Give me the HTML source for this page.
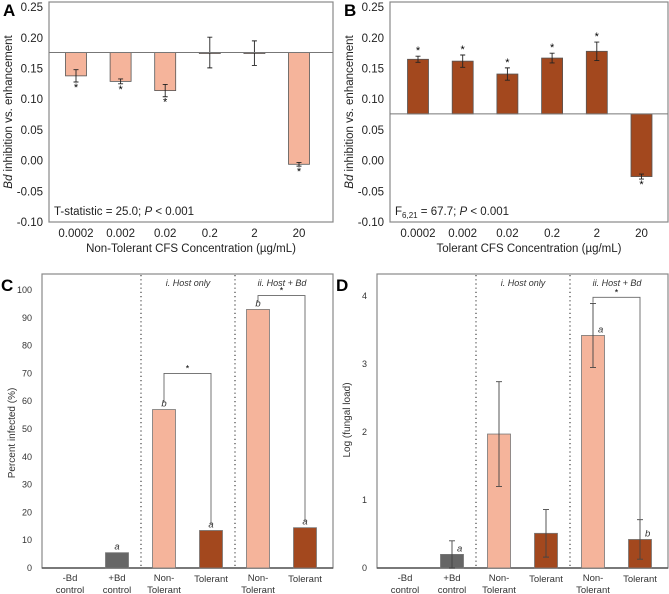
<!DOCTYPE html>
<html><head><meta charset="utf-8"><style>
body{margin:0;background:#fff;}
svg{display:block;font-family:"Liberation Sans",sans-serif;}
</style></head><body>
<svg id="fig" width="669" height="594" viewBox="0 0 669 594" xmlns="http://www.w3.org/2000/svg"></svg>
<script>
const concCats = ["0.0002","0.002","0.02","0.2","2","20"];
const aValues = [0.138,0.129,0.114,0.176,0.175,-0.006];
const aErrors = [0.010,0.004,0.010,0.025,0.020,0.003];
const aSig = [1,1,1,0,0,1];
const bValues = [0.165,0.162,0.141,0.167,0.178,-0.026];
const bErrors = [0.005,0.010,0.010,0.008,0.015,0.004];
const bSig = [1,1,1,1,1,1];
const abTicks = [0.25,0.20,0.15,0.10,0.05,0.00,-0.05,-0.10];
const groupCats = [["-Bd","control"],["+Bd","control"],["Non-","Tolerant"],["Tolerant"],["Non-","Tolerant"],["Tolerant"]];
const cValues = [0,5.5,57,13.5,93,14.5];
const cLetters = ["","a","b","a","b","a"];
const cTicks = [0,10,20,30,40,50,60,70,80,90,100];
const dValues = [0,0.2,1.97,0.51,3.42,0.42];
const dErrors = [0,0.2,0.77,0.35,0.47,0.29];
const dLetters = ["","a","","","a","b"];
const dTicks = [0,1,2,3,4];

const NS="http://www.w3.org/2000/svg";
const svg=document.getElementById('fig');
function el(tag,attrs,parent,text){const e=document.createElementNS(NS,tag);for(const k in attrs)e.setAttribute(k,attrs[k]);if(text!==undefined)e.textContent=text;(parent||svg).appendChild(e);return e;}
const PINK="#f5b49b",BROWN="#a3481e",GREY="#666";

function panelAB(o){
  const g=el('g',{});
  
  
  const y=v=>222-(v+0.10)*614;
  const x=i=>o.x0+i*o.step;
  el('rect',{x:o.left,y:2,width:o.right-o.left,height:220,fill:'none',stroke:'#888','stroke-width':1.2},g);
  const pl=el('text',{x:o.left-46,y:16,'font-size':17,'font-weight':'bold'},g,o.letter);
  
  abTicks.forEach(t=>{const tt=el('text',{x:o.left-6,y:y(t)+4,'font-size':11.5,'text-anchor':'end',fill:'#222'},g,t.toFixed(2));
    });
  const yt=el('text',{transform:`translate(${o.left-37},112) rotate(-90)`,'font-size':11.5,'text-anchor':'middle',fill:'#222'},g);
  
  el('tspan',{'font-style':'italic'},yt,'Bd');el('tspan',{},yt,' inhibition vs. enhancement');
  const base=y(o.base);
  o.vals.forEach((v,i)=>{
    const top=Math.min(base,y(v)),h=Math.abs(base-y(v));
    const b=el('rect',{x:x(i)-10.5,y:top,width:21,height:Math.max(h,1),fill:o.color,stroke:'#555','stroke-width':0.8},g);
    
    const e1=y(v+o.errs[i]),e2=y(v-o.errs[i]);
    const eb=el('path',{d:`M${x(i)},${e1}V${e2}M${x(i)-2.5},${e1}H${x(i)+2.5}M${x(i)-2.5},${e2}H${x(i)+2.5}`,stroke:'#222','stroke-width':0.9,fill:'none'},g);
    
    if(o.sig[i]){const below=v<o.base;const sy=below?e2+9:e1-2;
      const s=el('text',{x:x(i),y:sy,'font-size':11,'text-anchor':'middle'},g,'*');
      }
    const tl=el('text',{x:x(i),y:237,'font-size':11.5,'text-anchor':'middle',fill:'#222'},g,concCats[i]);
    
  });
  el('line',{x1:o.left,x2:o.right,y1:base,y2:base,stroke:'#777','stroke-width':1},g);
  const xt=el('text',{x:(o.left+o.right)/2,y:252,'font-size':11.5,'text-anchor':'middle',fill:'#222'},g,o.xtitle);
  
  const st=el('text',{x:o.left+5,y:215,'font-size':11.5,fill:'#222'},g);
  
  o.stat(st);
}
panelAB({name:'panel-a',letter:'A',left:49,right:333,x0:76,step:44.6,vals:aValues,errs:aErrors,sig:aSig,base:0.176,color:PINK,
  xtitle:'Non-Tolerant CFS Concentration (µg/mL)',stat:t=>{el('tspan',{},t,'T-statistic = 25.0; ');el('tspan',{'font-style':'italic'},t,'P');el('tspan',{},t,' < 0.001');}});
panelAB({name:'panel-b',letter:'B',left:390,right:668,x0:418,step:44.7,vals:bValues,errs:bErrors,sig:bSig,base:0.076,color:BROWN,
  xtitle:'Tolerant CFS Concentration (µg/mL)',stat:t=>{el('tspan',{},t,'F');el('tspan',{'font-size':8,dy:3},t,'6,21');el('tspan',{dy:-3},t,' = 67.7; ');el('tspan',{'font-style':'italic'},t,'P');el('tspan',{},t,' < 0.001');}});

function panelCD(o){
  const g=el('g',{});
  
  
  const y=v=>568-v*o.scale;
  const x=i=>o.left+28+i*47;
  el('rect',{x:o.left,y:274,width:o.right-o.left,height:294,fill:'none',stroke:'#888','stroke-width':1.2},g);
  el('line',{x1:o.left,x2:o.right,y1:568,y2:568,stroke:'#555','stroke-width':1.5},g);
  const pl=el('text',{x:o.left-41,y:291,'font-size':17,'font-weight':'bold'},g,o.letter);
  
  o.ticks.forEach(t=>{const tt=el('text',{x:o.left-10,y:y(t)+3,'font-size':9,'text-anchor':'end',fill:'#333'},g,String(t));
    });
  const yt=el('text',{transform:`translate(${o.left-27},${o.ytY}) rotate(-90)`,'font-size':10,'text-anchor':'middle',fill:'#333'},g,o.ytitle);
  
  [o.left+99,o.left+193].forEach(dx=>{const d=el('line',{x1:dx,x2:dx,y1:275,y2:568,stroke:'#333','stroke-width':1.1,'stroke-dasharray':'1.2,3'},g);
    });
  const h1=el('text',{x:o.left+146,y:286,'font-size':9,'font-style':'italic','text-anchor':'middle',fill:'#333'},g,'i. Host only');
  
  const h2=el('text',{x:o.left+240,y:286,'font-size':9,'font-style':'italic','text-anchor':'middle',fill:'#333'},g);
  
  el('tspan',{},h2,'ii. Host + ');el('tspan',{},h2,'Bd');
  const colors=[GREY,GREY,PINK,BROWN,PINK,BROWN];
  o.vals.forEach((v,i)=>{
    if(v>0){const b=el('rect',{x:x(i)-11.5,y:y(v),width:23,height:568-y(v),fill:colors[i],stroke:'#777','stroke-width':0.8},g);
      }
    if(o.errs&&o.errs[i]>0){const e1=y(v+o.errs[i]),e2=y(v-o.errs[i]);
      const eb=el('path',{d:`M${x(i)},${e1}V${e2}M${x(i)-3},${e1}H${x(i)+3}M${x(i)-3},${e2}H${x(i)+3}`,stroke:'#444','stroke-width':0.9,fill:'none'},g);
      }
    if(o.letters[i]){const lx=o.errs?x(i)+5:x(i);const ly=y(v)-3;
      const l=el('text',{x:lx,y:ly,'font-size':9.5,'font-style':'italic','text-anchor':o.errs?'start':'middle',fill:'#333'},g,o.letters[i]);
      }
    groupCats[i].forEach((s,k)=>{const t=el('text',{x:x(i),y:groupCats[i].length==1?582:581+k*12,'font-size':9.5,'text-anchor':'middle',fill:'#333'},g,s);
      });
  });
  o.brackets.forEach(br=>{const by=y(br.level);
    const p=el('path',{d:`M${x(br.a)},${br.ya}V${by}H${x(br.b)}V${br.yb}`,stroke:'#666','stroke-width':0.9,fill:'none'},g);
    
    const s=el('text',{x:(x(br.a)+x(br.b))/2,y:by-2,'font-size':9,'text-anchor':'middle'},g,'*');
    });
}
panelCD({name:'panel-c',letter:'C',left:42,right:333,scale:2.78,ticks:cTicks,vals:cValues,errs:null,letters:cLetters,
  ytitle:'Percent infected (%)',ytY:433,
  brackets:[{a:2,b:3,level:70,ya:568-59.5*2.78,yb:568-15.5*2.78},{a:4,b:5,level:98,ya:568-95.5*2.78,yb:568-16.5*2.78}]});
panelCD({name:'panel-d',letter:'D',left:377,right:668,scale:68,ticks:dTicks,vals:dValues,errs:dErrors,letters:dLetters,
  ytitle:'Log (fungal load)',ytY:420,
  brackets:[{a:4,b:5,level:3.98,ya:568-3.9*68,yb:568-0.71*68}]});
</script>
</body></html>
